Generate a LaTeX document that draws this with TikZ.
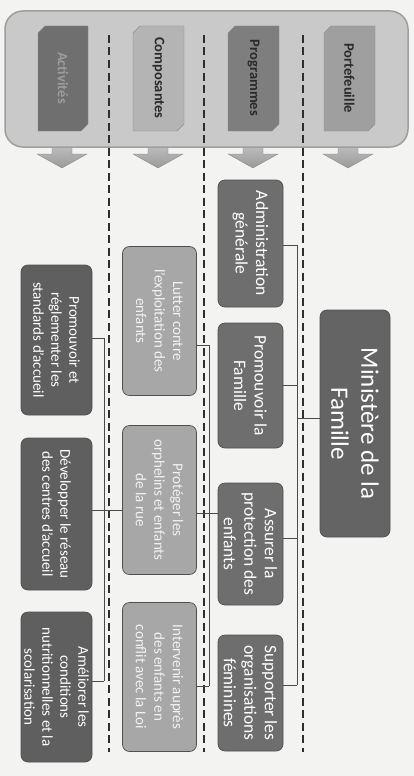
\documentclass[tikz,border=0pt]{standalone}
\usepackage{fontspec}
\setmainfont{Carlito}
\usetikzlibrary{calc}

\definecolor{paper}{HTML}{F3F3F1}
\definecolor{bannerfill}{HTML}{C9C9C9}
\definecolor{bannerline}{HTML}{9E9E9E}
\definecolor{hdact}{HTML}{6F6F6F}
\definecolor{hdacttext}{HTML}{9C9C9C}
\definecolor{hdcomp}{HTML}{B4B4B4}
\definecolor{hdprog}{HTML}{7E7E7E}
\definecolor{hdport}{HTML}{9F9F9F}
\definecolor{hdtext}{HTML}{2A2A2A}
\definecolor{arrowtop}{HTML}{C6C6C6}
\definecolor{arrowbot}{HTML}{9A9A9A}
\definecolor{minfill}{HTML}{646464}
\definecolor{progfill}{HTML}{6E6E6E}
\definecolor{compfill}{HTML}{A7A7A7}
\definecolor{actfill}{HTML}{5F5F5F}
\definecolor{edgecol}{HTML}{4F4F4F}
\definecolor{wirecol}{HTML}{4A4A4A}
\definecolor{sepcol}{HTML}{2E2E2E}

\begin{document}
\begin{tikzpicture}[x=1pt,y=-1pt,
  card/.style={rounded corners=7pt, draw=edgecol, line width=0.7pt, rotate=-90,
    align=center, inner sep=0pt, text=white},
  mincard/.style={card, fill=minfill, minimum width=227pt, minimum height=70pt,
    font=\fontsize{25}{30}\selectfont},
  progcard/.style={card, fill=progfill, minimum height=65pt,
    font=\fontsize{17.5}{20.5}\selectfont},
  compcard/.style={card, fill=compfill, minimum height=74pt, minimum width=149pt,
    text=white!95!black, font=\fontsize{15}{18.5}\selectfont},
  actcard/.style={card, fill=actfill, minimum height=71pt, minimum width=150pt,
    font=\fontsize{15}{18}\selectfont},
  headtext/.style={rotate=-90, text=hdtext, font=\fontsize{14.5}{17}\selectfont\bfseries},
  headbox/.style={draw=black!45, line width=0.4pt},
  sepline/.style={draw=sepcol, line width=1.7pt, dash pattern=on 8pt off 4.5pt},
  wire/.style={draw=wirecol, line width=0.9pt},
  downarrow/.style={top color=arrowtop, bottom color=arrowbot, draw=arrowbot!85!black, line width=0.3pt}
]

% page
\fill[paper] (0,0) rectangle (414,776);
\useasboundingbox (0,0) rectangle (414,776);

% block arrows under the level banner
\foreach \cx in {62,158,253,348}{
  \shade[downarrow] ({\cx-10},140) -- ({\cx+10},140) -- ({\cx+10},154) -- ({\cx+25},154)
    -- (\cx,168) -- ({\cx-25},154) -- ({\cx-10},154) -- cycle;
}

% level banner
\draw[fill=bannerfill, draw=bannerline, line width=1.5pt, rounded corners=18pt]
  (5,11) rectangle (408,147);

% level headers (snipped corners)
\fill[hdact, headbox] (45,26) -- (88,26) -- (88,124) -- (81,131) -- (38,131) -- (38,33) -- cycle;
\fill[hdcomp, headbox] (140,26) -- (184,26) -- (184,124) -- (177,131) -- (133,131) -- (133,33) -- cycle;
\fill[hdprog, headbox] (235,26) -- (279,26) -- (279,124) -- (272,131) -- (228,131) -- (228,33) -- cycle;
\fill[hdport, headbox] (331,26) -- (375,26) -- (375,124) -- (368,131) -- (324,131) -- (324,33) -- cycle;
\node[headtext, text=hdacttext] (hact) at (63,78) {Activités};
\node[headtext] (hcomp) at (158.5,78) {Composantes};
\node[headtext] (hprog) at (253.5,78) {Programmes};
\node[headtext] (hport) at (349.5,78) {Portefeuille};

% dashed separators between the levels
\coordinate (s1t) at (109,35);  \coordinate (s1b) at (109,752);
\coordinate (s2t) at (204,35);  \coordinate (s2b) at (204,752);
\coordinate (s3t) at (303,35);  \coordinate (s3b) at (303,752);
\draw[sepline] (s1t) -- (s1b);
\draw[sepline] (s2t) -- (s2b);
\draw[sepline] (s3t) -- (s3b);

% hierarchy
\node[mincard] (min) at (355,423.5) {Ministère de la\\Famille};

\node[progcard, minimum width=127pt] (adm) at (250.5,243.5) {Administration\\générale};
\node[progcard, minimum width=125pt] (pro) at (250.5,385.5) {Promouvoir la\\Famille};
\node[progcard, minimum width=122pt] (ass) at (250.5,544) {Assurer la\\protection des\\enfants};
\node[progcard, minimum width=116pt] (sup) at (250.5,693) {Supporter les\\organisations\\féminines};

\node[compcard] (lut) at (159.5,321) {Lutter contre\\l'exploitation des\\enfants};
\node[compcard] (prot) at (159.5,500) {Protéger les\\orphelins et enfants\\de la rue};
\node[compcard] (int) at (159.5,677) {Intervenir auprès\\des enfants en\\conflit avec la Loi};

\node[actcard] (prm) at (56.5,340) {Promouvoir et\\réglementer les\\standards d'accueil};
\node[actcard, minimum width=152pt] (dev) at (56.5,514) {Développer le réseau\\des centres d'accueil};
\node[actcard] (ame) at (56.5,687) {Améliorer les\\conditions\\nutritionnelles et la\\scolarisation};

% buses
\coordinate (pbus) at (297,0);
\coordinate (cbus) at (209,0);
\coordinate (abus) at (104,0);

% Ministère -> programmes
\coordinate (min-c) at ($(min.south)+(0,-5.5)$);
\draw[wire] (min-c) -- (min-c -| pbus);
\foreach \n/\d in {adm/1.5, pro/0, ass/-6, sup/-8}{
  \coordinate (\n-c) at ($(\n.north)+(0,\d)$);
  \draw[wire] (\n-c) -- (\n-c -| pbus);
}
\draw[wire] (adm-c -| pbus) -- (sup-c -| pbus);

% Assurer la protection -> composantes
\coordinate (lut-c) at ($(lut.north)+(0,24)$);
\coordinate (prot-c) at ($(prot.north)+(0,13)$);
\coordinate (int-c) at ($(int.north)+(0,9)$);
\draw[wire] (lut-c) -- (lut-c -| cbus);
\draw[wire] (int-c) -- (int-c -| cbus);
\draw[wire] (lut-c -| cbus) -- (int-c -| cbus);
\draw[wire] (prot-c) -- (prot-c -| ass.south);

% Protéger les orphelins -> activités
\coordinate (prm-c) at ($(prm.north)+(0,-2)$);
\coordinate (dev-c) at ($(dev.north)+(0,-4)$);
\coordinate (ame-c) at ($(ame.north)+(0,-6)$);
\draw[wire] (prm-c) -- (prm-c -| abus);
\draw[wire] (ame-c) -- (ame-c -| abus);
\draw[wire] (prm-c -| abus) -- (ame-c -| abus);
\draw[wire] (dev-c) -- (dev-c -| prot.south);

\end{tikzpicture}
\end{document}
